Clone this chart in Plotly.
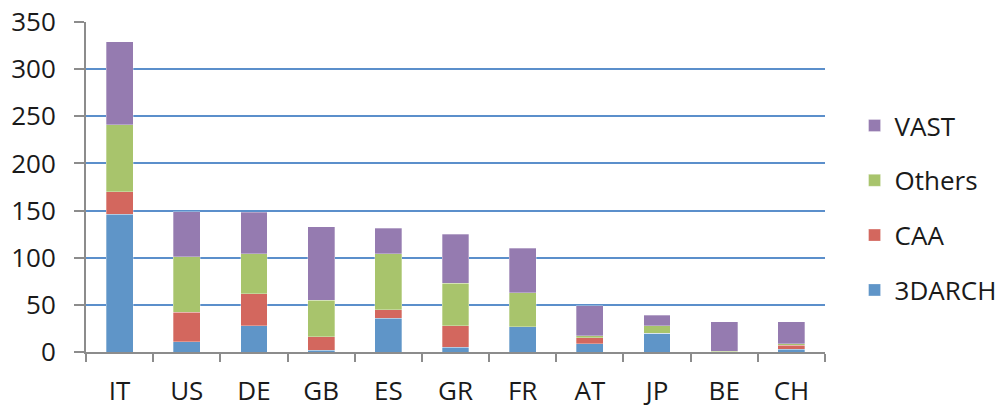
import plotly.graph_objects as go

countries = ["IT", "US", "DE", "GB", "ES", "GR", "FR", "AT", "JP", "BE", "CH"]
darch3 = [146, 11, 28, 2, 36, 5, 27, 9, 20, 0, 3]
caa = [24, 31, 34, 14, 9, 23, 0, 6, 0, 0, 4]
others = [71, 59, 42, 39, 59, 45, 36, 2, 8, 1, 2]
vast = [88, 48, 44, 78, 27, 52, 47, 32, 11, 31, 23]

# (name, values, colour, legend rank) — stacked bottom to top, listed top to bottom in legend
series = [
    ("3DARCH", darch3, "#5F95C8", 4),
    ("CAA", caa, "#D3675E", 3),
    ("Others", others, "#A8C46C", 2),
    ("VAST", vast, "#957BB0", 1),
]

font_family = "Open Sans, sans-serif"

fig = go.Figure()
for name, vals, color, rank in series:
    fig.add_trace(go.Bar(
        x=countries, y=vals, name=name,
        marker=dict(color=color, line=dict(color="rgba(255,255,255,0.5)", width=0.6)),
        legendgroup=name, legendrank=rank,
    ))

fig.update_layout(
    barmode="stack",
    bargap=0.6,
    width=1003, height=408,
    margin=dict(l=86, r=178, t=22, b=56, autoexpand=False),
    plot_bgcolor="white", paper_bgcolor="white",
    font=dict(family=font_family, size=26, color="#1a1a1a"),
    showlegend=True,
    legend=dict(
        traceorder="grouped",
        tracegroupgap=18,
        x=1.04, xanchor="left", y=0.436, yanchor="middle",
        font=dict(size=26),
        itemwidth=30,
    ),
    xaxis=dict(
        automargin=False,
        showline=True, linecolor="#8c8c8c", linewidth=2,
        ticks="outside", tickson="boundaries", ticklen=8, tickcolor="#8c8c8c", tickwidth=2,
        ticklabelstandoff=15,
        tickfont=dict(size=26),
        showgrid=False,
    ),
    yaxis=dict(
        automargin=False,
        range=[0, 350], dtick=50,
        showline=True, linecolor="#8c8c8c", linewidth=2,
        ticks="outside", ticklen=10, tickcolor="#8c8c8c", tickwidth=1.5,
        showgrid=True, gridcolor="#5B8FCB", gridwidth=1.5,
        zeroline=False,
        tickfont=dict(size=26),
        ticklabelstandoff=13,
    ),
)

fig.write_html("out.html")
